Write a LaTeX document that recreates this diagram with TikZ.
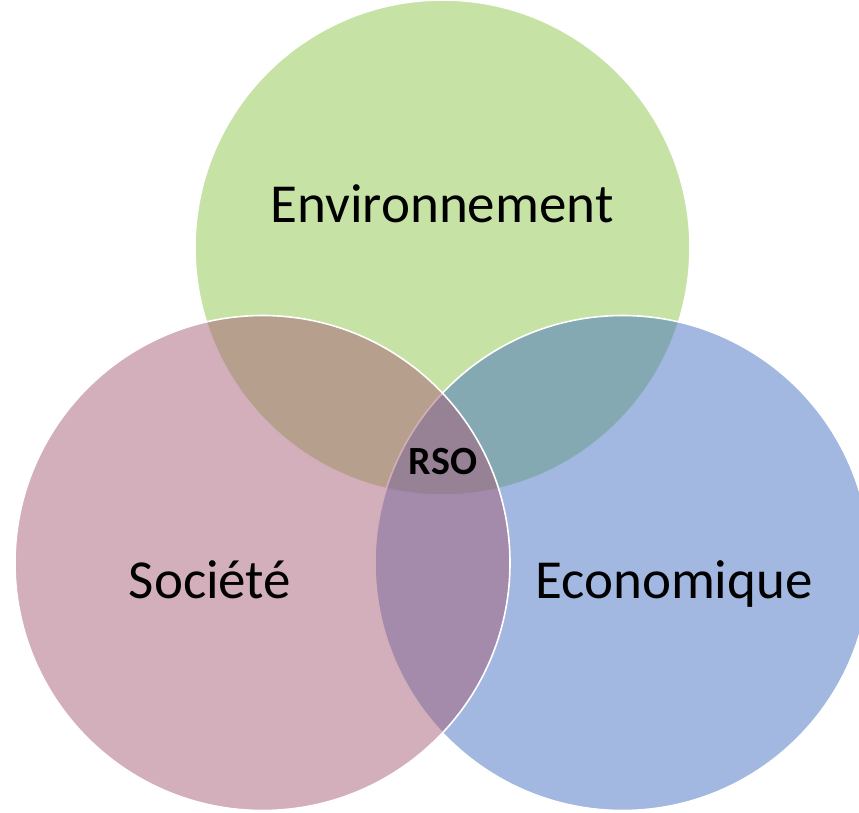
\documentclass[tikz,border=0pt]{standalone}
\usepackage{fontspec}
\setmainfont{Carlito}
\begin{document}
\begin{tikzpicture}[x=1pt,y=-1pt,
  venn/.style={draw=white,line width=1.6pt,fill opacity=0.5},
  lbl/.style={anchor=base,inner sep=0pt,font=\fontsize{55}{66}\selectfont},
  core/.style={anchor=base,inner sep=0pt,font=\fontsize{40}{48}\selectfont\bfseries}]
\definecolor{cgreen}{RGB}{141,197,73}
\definecolor{cblue}{RGB}{69,113,193}
\definecolor{cpink}{RGB}{167,93,119}
\useasboundingbox (0,0) rectangle (859,812);
\clip (0,0) rectangle (859,812);
\filldraw[venn,fill=cgreen] (442.5,247.5) circle[radius=247.5];
\filldraw[venn,fill=cblue] (622.5,563) circle[radius=247.5];
\filldraw[venn,fill=cpink] (262.5,563) circle[radius=247.5];
\node[lbl] (env) at (442,222) {Environnement};
\node[lbl] (soc) at (210,598) {Société};
\node[lbl] (eco) at (674,598) {Economique};
\node[core] (rso) at (443,474) {RSO};
\end{tikzpicture}
\end{document}
